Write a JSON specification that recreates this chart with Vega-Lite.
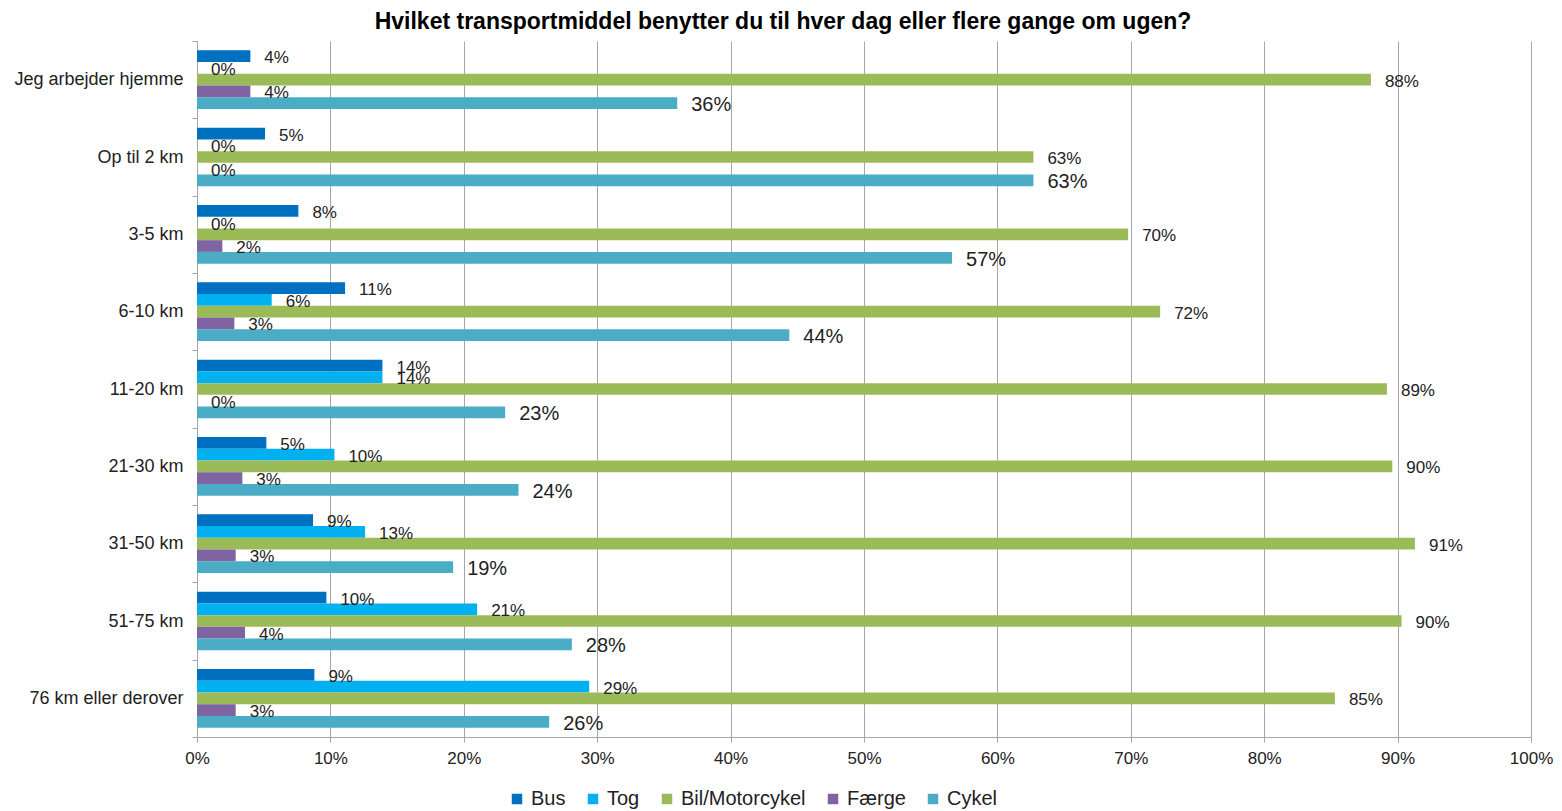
{
  "$schema": "https://vega.github.io/schema/vega-lite/v6.json",
  "autosize": "none",
  "padding": {"left": 197, "top": 41, "right": 31, "bottom": 74},
  "width": 1334,
  "height": 696,
  "background": "white",
  "config": {"view": {"stroke": null}, "font": "Liberation Sans"},
  "title": {
    "text": "Hvilket transportmiddel  benytter du  til hver dag eller flere gange om ugen?",
    "fontSize": 23,
    "fontWeight": "bold",
    "color": "#000000",
    "anchor": "middle",
    "dx": -81,
    "dy": 12,
    "offset": 10,
    "font": "Liberation Sans"
  },
  "data": {
    "values": [
      {"cat": "Jeg arbejder hjemme", "series": "Bus", "value": 0.040},
      {"cat": "Jeg arbejder hjemme", "series": "Tog", "value": 0},
      {"cat": "Jeg arbejder hjemme", "series": "Bil/Motorcykel", "value": 0.880},
      {"cat": "Jeg arbejder hjemme", "series": "Færge", "value": 0.040},
      {"cat": "Jeg arbejder hjemme", "series": "Cykel", "value": 0.360},
      {"cat": "Op til 2 km", "series": "Bus", "value": 0.051},
      {"cat": "Op til 2 km", "series": "Tog", "value": 0},
      {"cat": "Op til 2 km", "series": "Bil/Motorcykel", "value": 0.627},
      {"cat": "Op til 2 km", "series": "Færge", "value": 0},
      {"cat": "Op til 2 km", "series": "Cykel", "value": 0.627},
      {"cat": "3-5 km", "series": "Bus", "value": 0.076},
      {"cat": "3-5 km", "series": "Tog", "value": 0},
      {"cat": "3-5 km", "series": "Bil/Motorcykel", "value": 0.698},
      {"cat": "3-5 km", "series": "Færge", "value": 0.019},
      {"cat": "3-5 km", "series": "Cykel", "value": 0.566},
      {"cat": "6-10 km", "series": "Bus", "value": 0.111},
      {"cat": "6-10 km", "series": "Tog", "value": 0.056},
      {"cat": "6-10 km", "series": "Bil/Motorcykel", "value": 0.722},
      {"cat": "6-10 km", "series": "Færge", "value": 0.028},
      {"cat": "6-10 km", "series": "Cykel", "value": 0.444},
      {"cat": "11-20 km", "series": "Bus", "value": 0.139},
      {"cat": "11-20 km", "series": "Tog", "value": 0.139},
      {"cat": "11-20 km", "series": "Bil/Motorcykel", "value": 0.892},
      {"cat": "11-20 km", "series": "Færge", "value": 0},
      {"cat": "11-20 km", "series": "Cykel", "value": 0.231},
      {"cat": "21-30 km", "series": "Bus", "value": 0.052},
      {"cat": "21-30 km", "series": "Tog", "value": 0.103},
      {"cat": "21-30 km", "series": "Bil/Motorcykel", "value": 0.896},
      {"cat": "21-30 km", "series": "Færge", "value": 0.034},
      {"cat": "21-30 km", "series": "Cykel", "value": 0.241},
      {"cat": "31-50 km", "series": "Bus", "value": 0.087},
      {"cat": "31-50 km", "series": "Tog", "value": 0.126},
      {"cat": "31-50 km", "series": "Bil/Motorcykel", "value": 0.913},
      {"cat": "31-50 km", "series": "Færge", "value": 0.029},
      {"cat": "31-50 km", "series": "Cykel", "value": 0.192},
      {"cat": "51-75 km", "series": "Bus", "value": 0.097},
      {"cat": "51-75 km", "series": "Tog", "value": 0.210},
      {"cat": "51-75 km", "series": "Bil/Motorcykel", "value": 0.903},
      {"cat": "51-75 km", "series": "Færge", "value": 0.036},
      {"cat": "51-75 km", "series": "Cykel", "value": 0.281},
      {"cat": "76 km eller derover", "series": "Bus", "value": 0.088},
      {"cat": "76 km eller derover", "series": "Tog", "value": 0.294},
      {"cat": "76 km eller derover", "series": "Bil/Motorcykel", "value": 0.853},
      {"cat": "76 km eller derover", "series": "Færge", "value": 0.029},
      {"cat": "76 km eller derover", "series": "Cykel", "value": 0.264}
    ]
  },
  "encoding": {
    "y": {
      "field": "cat",
      "type": "nominal",
      "sort": ["Jeg arbejder hjemme", "Op til 2 km", "3-5 km", "6-10 km", "11-20 km", "21-30 km", "31-50 km", "51-75 km", "76 km eller derover"],
      "scale": {"paddingInner": 0, "paddingOuter": 0},
      "axis": {
        "title": null,
        "grid": false,
        "tickBand": "extent",
        "tickSize": 5,
        "tickColor": "#a6a6a6",
        "domainColor": "#a6a6a6",
        "labelFontSize": 18,
        "labelColor": "#222222",
        "labelPadding": 9,
        "labelLimit": 400
      }
    },
    "yOffset": {
      "field": "series",
      "type": "nominal",
      "sort": ["Bus", "Tog", "Bil/Motorcykel", "Færge", "Cykel"],
      "scale": {"paddingInner": 0, "paddingOuter": 0.8}
    },
    "x": {
      "field": "value",
      "type": "quantitative",
      "scale": {"domain": [0, 1], "nice": false},
      "axis": {
        "title": null,
        "values": [0, 0.1, 0.2, 0.3, 0.4, 0.5, 0.6, 0.7, 0.8, 0.9, 1],
        "format": ".0%",
        "grid": true,
        "gridColor": "#a6a6a6",
        "gridOpacity": 1,
        "domainColor": "#a6a6a6",
        "tickColor": "#a6a6a6",
        "tickSize": 5,
        "labelFontSize": 17,
        "labelColor": "#222222",
        "labelPadding": 8,
        "labelFlush": false
      }
    }
  },
  "layer": [
    {
      "mark": {"type": "bar"},
      "encoding": {
        "color": {
          "field": "series",
          "type": "nominal",
          "scale": {
            "domain": ["Bus", "Tog", "Bil/Motorcykel", "Færge", "Cykel"],
            "range": ["#0070c0", "#00b0f0", "#9bbb59", "#8064a2", "#4bacc6"]
          },
          "legend": {
            "title": null,
            "orient": "none",
            "direction": "horizontal",
            "legendX": 310,
            "legendY": 748,
            "symbolType": "square",
            "symbolSize": 110,
            "symbolStrokeWidth": 0,
            "labelFontSize": 20,
            "labelColor": "#222222",
            "labelOffset": 4,
            "columnPadding": 17,
            "padding": 0
          }
        }
      }
    },
    {
      "mark": {"type": "text", "align": "left", "baseline": "middle", "dx": 14, "dy": 2, "color": "#222222"},
      "encoding": {
        "text": {"field": "value", "type": "quantitative", "format": ".0%"},
        "size": {"condition": {"test": "datum.series === 'Cykel'", "value": 20}, "value": 17}
      }
    }
  ]
}
